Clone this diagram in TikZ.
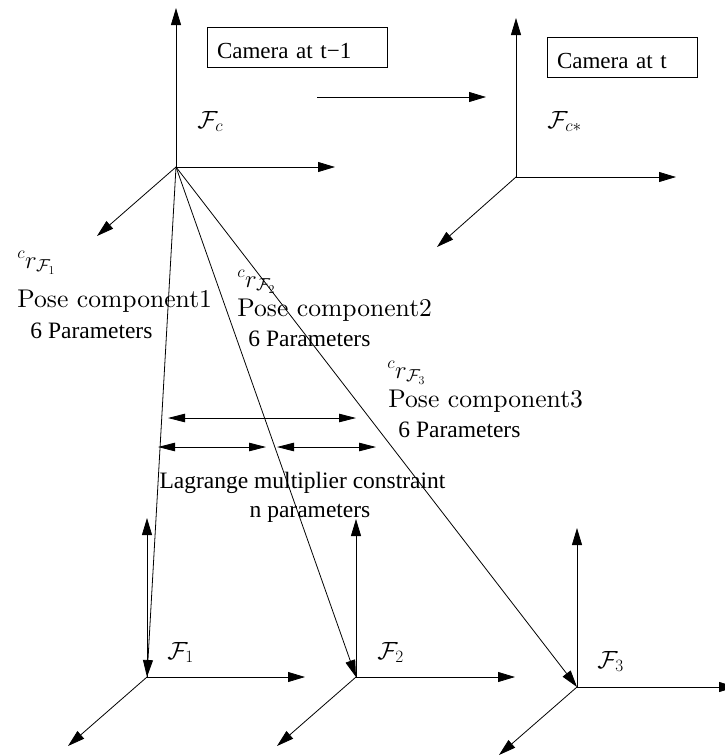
\documentclass[tikz,border=0pt]{standalone}
\usepackage{fontspec}
\newfontfamily\timesf{Liberation Serif}
\newfontfamily\cmten{lmroman10-regular.otf}
\usetikzlibrary{arrows.meta}
\begin{document}
\begin{tikzpicture}[x=1pt,y=-1pt,line width=0.8pt,
  axis/.style={-{Triangle[length=17pt,width=10pt]}},
  dbl/.style={{Triangle[length=17pt,width=8.5pt]}-{Triangle[length=17pt,width=8.5pt]}},
  cambox/.style={draw,line width=0.8pt,minimum height=40pt,inner xsep=10pt,inner ysep=0pt,align=left,text height=24pt,text depth=2pt,font=\timesf\fontsize{23}{26}\selectfont},
  timestxt/.style={inner sep=0pt,anchor=base west,font=\timesf\fontsize{23.5}{27}\selectfont},
  cmtxt/.style={inner sep=0pt,anchor=base west,font=\cmten\fontsize{25.6}{30}\selectfont},
  framelbl/.style={inner sep=0pt,anchor=base west,font=\fontsize{23}{28}\selectfont}]
\useasboundingbox (0,0) rectangle (725,756);
% frame coordinates
\coordinate (oc) at (176,167); \coordinate (xc) at (335,167); \coordinate (yc) at (176,8); \coordinate (zc) at (97,236);
\coordinate (os) at (516,177); \coordinate (xs) at (676,177); \coordinate (ys) at (516,18); \coordinate (zs) at (437,247);
\coordinate (o1) at (147,677); \coordinate (x1) at (305,677); \coordinate (y1) at (147,518); \coordinate (z1) at (68,746);
\coordinate (o2) at (356,677); \coordinate (x2) at (515,677); \coordinate (y2) at (356,519); \coordinate (z2) at (277,746);
\coordinate (o3) at (577,687); \coordinate (x3) at (736,687); \coordinate (y3) at (577,528); \coordinate (z3) at (499,755);
% axes
\foreach \f in {c,s,1,2,3}{
  \draw[axis] (o\f) -- (x\f);
  \draw[axis] (o\f) -- (y\f);
  \draw[axis] (o\f) -- (z\f);
}
% rays
\draw[axis] (oc) -- (o1);
\draw[axis] (oc) -- (o2);
\draw[axis] (oc) -- (o3);
% camera boxes
\node[cambox,text width=160pt] (cam1) at (297,47) {Camera at t−1};
\node[cambox,text width=130pt] (cam2) at (622,57) {Camera at t};
\coordinate (ma) at (317,97); \coordinate (mb) at (486,97);
\draw[axis] (ma) -- (mb);
% frame labels
\node[framelbl] (lfc) at (197,128) {$\mathcal{F}_c$};
\node[framelbl] (lfs) at (547,128) {$\mathcal{F}_{c*}$};
\node[framelbl] (lf1) at (167,659) {$\mathcal{F}_1$};
\node[framelbl] (lf2) at (377,659) {$\mathcal{F}_2$};
\node[framelbl] (lf3) at (597,668) {$\mathcal{F}_3$};
% pose components
\node[cmtxt] (r1) at (17,268) {${}^c r_{\mathcal{F}_1}$};
\node[cmtxt] (p1) at (17,307) {Pose component1};
\node[timestxt] (n1) at (30,338) {6 Parameters};
\node[cmtxt] (r2) at (237,287) {${}^c r_{\mathcal{F}_2}$};
\node[cmtxt] (p2) at (237,316) {Pose component2};
\node[timestxt] (n2) at (248,346) {6 Parameters};
\node[cmtxt] (r3) at (387,378) {${}^c r_{\mathcal{F}_3}$};
\node[cmtxt] (p3) at (388,407) {Pose component3};
\node[timestxt] (n3) at (398,437) {6 Parameters};
% lagrange arrows
\coordinate (la) at (168,418); \coordinate (lb) at (356,418);
\coordinate (lc) at (158,447); \coordinate (ld) at (266,447);
\coordinate (le) at (277,447); \coordinate (lf) at (376,447);
\draw[dbl] (la) -- (lb);
\draw[dbl] (lc) -- (ld);
\draw[dbl] (le) -- (lf);
\node[timestxt,anchor=base] (lg) at (302.5,488) {Lagrange multiplier constraint};
\node[timestxt,anchor=base] (np) at (310,517) {n parameters};
\end{tikzpicture}
\end{document}
